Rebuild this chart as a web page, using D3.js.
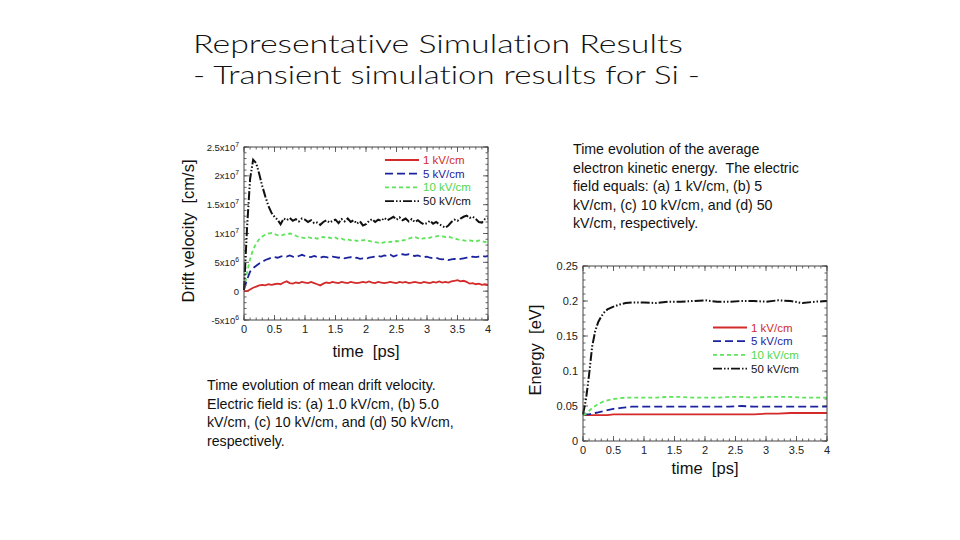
<!DOCTYPE html>
<html><head><meta charset="utf-8">
<script src="https://cdn.jsdelivr.net/npm/d3@7/dist/d3.min.js"></script>
<style>
html,body{margin:0;padding:0;background:#fff;}
svg{display:block;}
.ttl{font-variant-ligatures:none;font-feature-settings:"liga" 0,"dlig" 0,"clig" 0;}
</style></head>
<body>
<svg id="c" width="960" height="540"></svg>
<script>
// ---------- DATA ----------
const seriesNames = ["1 kV/cm", "5 kV/cm", "10 kV/cm", "50 kV/cm"];
const seriesColors = ["#d42a2a", "#1b239e", "#5fe35a", "#111111"];

// Drift velocity (units of 1e6 cm/s), sampled every 0.05 ps from 0 to 4 ps
const velTime = d3.range(0, 81).map(i => i * 0.05);
const vel1 = [0.0,0.0,0.3,0.6,0.8,1.0,1.1,1.0,1.2,1.1,1.2,1.3,1.2,1.5,1.7,1.4,1.3,1.5,1.4,1.6,1.5,1.4,1.6,1.4,1.2,1.0,1.3,1.5,1.4,1.6,1.5,1.4,1.6,1.5,1.4,1.6,1.5,1.4,1.5,1.6,1.5,1.7,1.5,1.4,1.6,1.5,1.4,1.5,1.6,1.5,1.4,1.6,1.5,1.6,1.4,1.5,1.6,1.5,1.4,1.6,1.5,1.4,1.6,1.5,1.7,1.5,1.6,1.5,1.7,1.8,1.9,1.7,1.8,1.6,1.3,1.4,1.2,1.3,1.1,1.2,1.1];
const vel5 = [0.3,2.0,3.4,4.0,4.4,4.8,5.1,5.4,5.6,5.8,5.9,5.8,6.0,6.1,6.0,6.2,6.0,5.9,6.1,6.3,6.1,6.0,5.9,6.1,5.9,5.8,6.0,5.9,5.8,6.0,5.9,5.8,5.9,5.7,5.8,5.9,5.7,5.8,5.6,5.7,5.6,5.8,5.9,6.0,6.1,6.0,6.2,6.1,6.3,6.0,6.2,6.3,6.4,6.3,6.4,6.2,6.1,6.2,6.0,5.9,6.0,5.8,5.7,5.8,5.6,5.5,5.6,5.4,5.5,5.6,5.5,5.6,5.7,5.8,5.9,6.0,5.9,6.0,6.1,6.0,6.1];
const vel10 = [0.4,3.2,5.6,7.2,8.3,9.0,9.5,9.8,10.0,10.1,9.9,9.7,9.6,9.8,9.9,10.0,9.9,9.6,9.4,9.3,9.2,9.4,9.2,9.3,9.1,9.3,9.4,9.2,9.3,9.1,9.3,9.0,9.1,8.9,9.0,8.8,8.9,8.7,8.9,8.8,8.9,8.7,8.6,8.5,8.4,8.3,8.5,8.4,8.6,8.5,8.7,8.6,8.8,8.9,9.1,9.3,9.4,9.2,9.0,9.2,9.1,9.3,9.4,9.5,9.6,9.5,9.4,9.5,9.3,9.2,9.0,8.9,8.8,8.7,8.8,8.7,8.6,8.8,8.7,8.5,8.7];
const vel50 = [0.2,11.0,19.5,22.8,22.2,20.3,18.2,16.4,14.8,13.6,12.9,12.4,11.6,12.6,12.3,12.7,12.2,12.5,12.1,12.6,12.4,12.0,12.3,11.8,11.9,11.5,12.0,12.3,11.9,12.2,12.4,11.8,12.5,12.1,12.6,12.0,12.3,11.7,12.1,11.4,11.6,12.2,12.5,12.0,12.4,12.2,12.7,12.3,12.6,12.9,12.4,12.8,12.3,12.6,12.1,12.5,12.0,12.3,11.9,11.6,11.8,12.2,11.7,12.0,11.6,11.3,11.0,11.4,12.0,12.4,12.2,12.6,12.9,13.1,12.7,12.9,12.5,12.0,11.9,12.5,12.6];

// Average kinetic energy (eV)
const enTime = [0,0.05,0.1,0.15,0.2,0.25,0.3,0.35,0.4,0.5,0.6,0.7,0.8,0.9,1.0,1.2,1.4,1.6,1.8,2.0,2.2,2.4,2.6,2.8,3.0,3.2,3.4,3.6,3.8,4.0];
const en1 = [0.037,0.037,0.037,0.037,0.037,0.037,0.037,0.037,0.037,0.038,0.038,0.038,0.038,0.038,0.038,0.038,0.038,0.038,0.038,0.038,0.038,0.038,0.038,0.038,0.039,0.039,0.040,0.040,0.040,0.040];
const en5 = [0.038,0.038,0.038,0.039,0.040,0.041,0.042,0.043,0.044,0.046,0.047,0.048,0.049,0.049,0.049,0.049,0.049,0.049,0.049,0.049,0.049,0.049,0.050,0.049,0.049,0.049,0.049,0.049,0.049,0.049];
const en10 = [0.037,0.039,0.043,0.047,0.050,0.053,0.055,0.057,0.058,0.060,0.061,0.062,0.062,0.062,0.062,0.062,0.063,0.063,0.062,0.062,0.062,0.063,0.063,0.062,0.063,0.063,0.063,0.062,0.062,0.062];
const en50 = [0.038,0.060,0.095,0.135,0.157,0.170,0.178,0.184,0.188,0.192,0.195,0.197,0.198,0.198,0.198,0.197,0.199,0.199,0.200,0.201,0.199,0.199,0.200,0.200,0.199,0.201,0.200,0.197,0.199,0.200];

const xTickLabels = ["0","0.5","1","1.5","2","2.5","3","3.5","4"];
const velTickValues = [-5,0,5,10,15,20,25];
const velTickLabels = ["-5x10^6","0","5x10^6","1x10^7","1.5x10^7","2x10^7","2.5x10^7"];
const enTickValues = [0,0.05,0.1,0.15,0.2,0.25];
const enTickLabels = ["0","0.05","0.1","0.15","0.2","0.25"];

const titleLines = ["Representative Simulation Results", "- Transient simulation results for Si -"];
const leftCaption = ["Time evolution of mean drift velocity.", "Electric field is: (a) 1.0 kV/cm, (b) 5.0", "kV/cm, (c) 10 kV/cm, and (d) 50 kV/cm,", "respectively."];
const rightCaption = ["Time evolution of the average", "electron kinetic energy.  The electric", "field equals: (a) 1 kV/cm, (b) 5", "kV/cm, (c) 10 kV/cm, and (d) 50", "kV/cm, respectively."];

// ---------- DRAW ----------
const svg = d3.select("#c");
const dashes = [null, "8,4", "4,3", "9,2,1.5,2,1.5,2"];
const FONT = "Liberation Sans, Arial, Helvetica, sans-serif";

// Title
svg.append("g").selectAll("text").data(titleLines).join("text")
  .attr("class", "ttl")
  .attr("x", 193).attr("y", (d,i) => 53 + i*30.5)
  .attr("font-family", "Lato, Open Sans, sans-serif").attr("font-weight", 300)
  .attr("font-size", 25).attr("fill", "#111")
  .attr("textLength", (d,i) => i === 0 ? 490 : 507).attr("lengthAdjust", "spacingAndGlyphs")
  .text(d => d);

function caption(lines, x, y0) {
  svg.append("g").selectAll("text").data(lines).join("text")
    .attr("x", x).attr("y", (d,i) => y0 + i*18.6)
    .attr("font-family", FONT).attr("font-size", 14.2).attr("fill", "#111")
    .style("white-space", "pre")
    .text(d => d);
}
caption(leftCaption, 207, 390);
caption(rightCaption, 573, 154);

function panel(o) {
  const g = svg.append("g");
  const x = d3.scaleLinear().domain([0, 4]).range([o.x0, o.x1]);
  const y = d3.scaleLinear().domain(o.yDomain).range([o.y1, o.y0]);
  const tickColor = "#555";
  const xMinor = d3.range(0, 41).map(i => i * 0.1);
  const xMajor = d3.range(0, 9).map(i => i * 0.5);
  const yMinor = d3.range(0, Math.round((o.yDomain[1]-o.yDomain[0])/o.yMinorStep) + 1).map(i => o.yDomain[0] + i*o.yMinorStep);
  const tk = g.append("g").attr("stroke", tickColor).attr("stroke-width", 0.9);
  const addX = (vals, len) => {
    vals.forEach(v => {
      tk.append("line").attr("x1", x(v)).attr("x2", x(v)).attr("y1", o.y1).attr("y2", o.y1 - len);
      tk.append("line").attr("x1", x(v)).attr("x2", x(v)).attr("y1", o.y0).attr("y2", o.y0 + len);
    });
  };
  const addY = (vals, len) => {
    vals.forEach(v => {
      tk.append("line").attr("y1", y(v)).attr("y2", y(v)).attr("x1", o.x0).attr("x2", o.x0 + len);
      tk.append("line").attr("y1", y(v)).attr("y2", y(v)).attr("x1", o.x1).attr("x2", o.x1 - len);
    });
  };
  addX(xMinor, 2.5); addX(xMajor, 5);
  addY(yMinor, 2.5); addY(o.yTicks, 5);

  const line = d3.line().x(d => x(d[0])).y(d => y(d[1]));
  o.series.forEach((s, i) => {
    g.append("path")
      .datum(o.time.map((t, j) => [t, s[j]]))
      .attr("d", line).attr("fill", "none")
      .attr("stroke", seriesColors[i]).attr("stroke-width", i === 3 ? 2 : 1.8)
      .attr("stroke-dasharray", dashes[i]);
  });

  g.append("rect").attr("x", o.x0).attr("y", o.y0).attr("width", o.x1 - o.x0).attr("height", o.y1 - o.y0)
    .attr("fill", "none").attr("stroke", "#444").attr("stroke-width", 1);

  g.append("g").selectAll("text").data(xMajor).join("text")
    .attr("x", d => x(d)).attr("y", o.y1 + 13).attr("text-anchor", "middle")
    .attr("font-family", FONT).attr("font-size", 11).attr("fill", "#222")
    .text((d,i) => xTickLabels[i]);
  const yl = g.append("g").selectAll("text").data(o.yTicks).join("text")
    .attr("x", o.x0 - 5).attr("y", d => y(d) + 3.5).attr("text-anchor", "end")
    .attr("font-family", FONT).attr("font-size", o.yFont).attr("fill", "#222");
  yl.each(function(d, i) {
    const lab = o.yLabels[i];
    const t = d3.select(this);
    if (lab.includes("^")) {
      const [base, ex] = lab.split("^");
      t.append("tspan").text(base);
      t.append("tspan").attr("dy", -4).attr("font-size", o.yFont * 0.72).text(ex);
    } else t.text(lab);
  });

  g.append("text").attr("x", (o.x0 + o.x1)/2).attr("y", o.xTitleY).attr("text-anchor", "middle")
    .attr("font-family", FONT).attr("font-size", 16.5).attr("fill", "#111")
    .style("white-space", "pre").text("time\u00a0\u00a0[ps]");
  g.append("text").attr("transform", `translate(${o.yTitleX},${o.yTitleCY}) rotate(-90)`)
    .attr("text-anchor", "middle").attr("font-family", FONT).attr("font-size", 16.5).attr("fill", "#111")
    .style("white-space", "pre").text(o.yTitle);

  const lg = g.append("g");
  seriesNames.forEach((n, i) => {
    const ly = o.legY + i * o.legStep;
    lg.append("line").attr("x1", o.legX).attr("x2", o.legX + 34).attr("y1", ly).attr("y2", ly)
      .attr("stroke", seriesColors[i]).attr("stroke-width", 1.8).attr("stroke-dasharray", dashes[i]);
    lg.append("text").attr("x", o.legX + 38).attr("y", ly + 4)
      .attr("font-family", FONT).attr("font-size", 11.5)
      .attr("fill", i === 2 ? "#4fd84a" : seriesColors[i]).text(n);
  });
}

panel({
  x0: 244, x1: 488, y0: 147, y1: 320,
  yDomain: [-5, 25], yTicks: velTickValues, yLabels: velTickLabels, yMinorStep: 1, yFont: 9.5,
  time: velTime, series: [vel1, vel5, vel10, vel50],
  xTitleY: 357, yTitle: "Drift velocity\u00a0\u00a0[cm/s]", yTitleX: 194, yTitleCY: 231,
  legX: 385, legY: 160, legStep: 13.7
});

panel({
  x0: 583, x1: 827, y0: 266, y1: 441,
  yDomain: [0, 0.25], yTicks: enTickValues, yLabels: enTickLabels, yMinorStep: 0.01, yFont: 11,
  time: enTime, series: [en1, en5, en10, en50],
  xTitleY: 474, yTitle: "Energy\u00a0\u00a0[eV]", yTitleX: 541, yTitleCY: 350,
  legX: 713, legY: 327.5, legStep: 13.7
});
</script>
</body></html>
